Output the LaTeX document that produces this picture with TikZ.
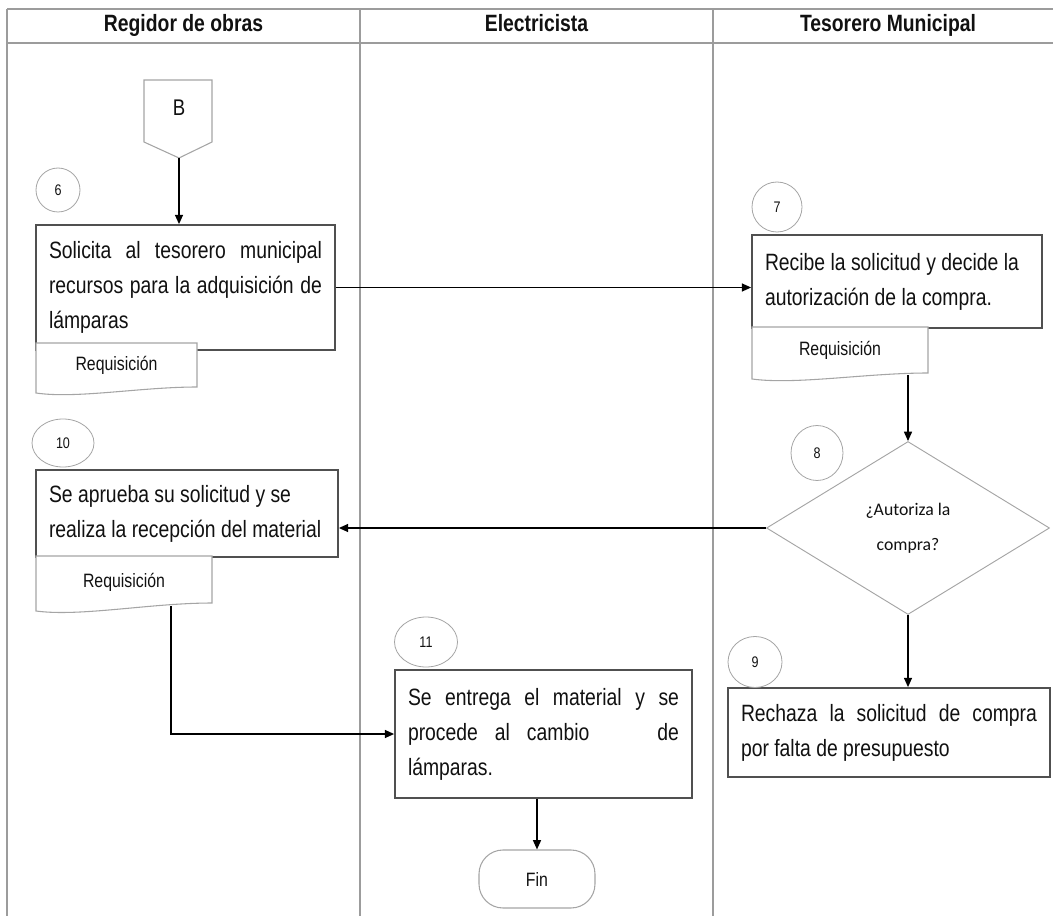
\documentclass[tikz,border=0pt]{standalone}
\usepackage{fontspec}
\setmainfont[FakeStretch=0.82]{Liberation Sans}
\newfontfamily\calfont{Carlito}
\usetikzlibrary{arrows.meta,shapes.geometric}

\definecolor{lanegray}{HTML}{9C9C9C}
\definecolor{boxgray}{HTML}{505050}
\definecolor{softgray}{HTML}{A5A5A5}
\definecolor{inkcol}{HTML}{111111}

% one justified line of a process box
\newcommand\jline[1]{\makebox[\linewidth][s]{#1}}
% document symbol: left, right, top, right bottom, left bottom
\newcommand\docpath[5]{%
  \draw[docline] (#1,#3) -- (#2,#3) -- (#2,#4)
    .. controls ({#2-0.35*(#2-#1)},#4) and ({#1+0.25*(#2-#1)},{#5+6}) .. (#1,#5) -- cycle;}

\tikzset{
  lane/.style={draw=lanegray, line width=1.5pt},
  lanehead/.style={anchor=base, font=\bfseries\fontsize{17.7}{20}\selectfont, text=inkcol},
  proc/.style={draw=boxgray, line width=1.3pt, fill=white, inner xsep=9.75pt,
    inner ysep=0pt, align=flush left, text=inkcol,
    font=\fontsize{17.7}{26.25}\selectfont},
  num/.style={ellipse, draw=softgray, line width=0.6pt, fill=white, inner sep=0pt,
    text=inkcol, font=\fontsize{11.5}{13}\selectfont},
  docline/.style={draw=softgray, line width=0.8pt, fill=white},
  doctext/.style={inner sep=0pt, text=inkcol, font=\fontsize{14.5}{16}\selectfont},
  flow/.style={draw=black, line width=1.1pt, -{Triangle[length=7pt,width=6pt]}}
}

\begin{document}
\begin{tikzpicture}[x=0.75pt, y=-0.75pt]
\useasboundingbox (0,0) rectangle (1053,916);

% swimlanes
\draw[lane] (7,9) -- (1053,9);
\draw[lane] (7,43) -- (1053,43);
\draw[lane] (7,9) -- (7,916);
\draw[lane] (360,9) -- (360,916);
\draw[lane] (713,9) -- (713,916);
\node[lanehead] (h1) at (183.5,32) {Regidor de obras};
\node[lanehead] (h2) at (536.5,32) {Electricista};
\node[lanehead] (h3) at (888,32) {Tesorero Municipal};

% off-page connector
\draw[docline] (144,80) -- (212,80) -- (212,142) -- (179,158) -- (144,142) -- cycle;
\node[text=inkcol, font=\fontsize{17}{20}\selectfont] (B) at (179,108) {B};
\coordinate (Bp) at (179,158);

% process boxes
\node[proc, text width=204.75pt, minimum height=93.75pt] (p6) at (185.5,287.5)
  {\jline{Solicita al tesorero municipal}\\\jline{recursos para la adquisición de}\\lámparas};
\node[proc, text width=198pt, minimum height=69.75pt] (p7) at (897,281.5)
  {Recibe la solicitud y decide la\\autorización de la compra.};
\node[proc, text width=207pt, minimum height=65.25pt] (p10) at (187,513.5)
  {Se aprueba su solicitud y se\\realiza la recepción del material};
\node[proc, text width=203.25pt, minimum height=96pt] (p11) at (543.5,734)
  {\jline{Se entrega el material y se}\\\makebox[\linewidth][l]{procede\hspace{12.75pt}al\hspace{12.75pt}cambio\hfill de}\\lámparas.};
\node[proc, text width=222pt, minimum height=66.75pt] (p9) at (889,732.5)
  {\jline{Rechaza la solicitud de compra}\\por falta de presupuesto};

% documents
\docpath{36}{197}{343}{387}{393}
\node[doctext] (doc6) at (116.5,365) {Requisición};
\docpath{752}{928}{327}{373}{379}
\node[doctext] (doc7) at (840,350) {Requisición};
\docpath{36}{212}{556}{603}{611}
\node[doctext] (doc10) at (124,582) {Requisición};
\coordinate (doc7b) at (908,375);
\coordinate (doc10b) at (171,606);

% decision
\node[diamond, draw=softgray, line width=0.7pt, fill=white, inner sep=0pt,
  minimum width=212.25pt, minimum height=129.75pt, align=center, text=inkcol,
  font=\calfont\fontsize{13.3}{26.25}\selectfont] (d8) at (908,528)
  {¿Autoriza la\\compra?};

% terminator
\node[draw=softgray, line width=0.8pt, rounded corners=18pt, minimum width=87pt,
  minimum height=43.5pt, inner sep=0pt, text=inkcol,
  font=\fontsize{14.5}{16}\selectfont] (fin) at (537,879) {Fin};

% step numbers
\node[num, minimum width=33pt, minimum height=33pt] (n6) at (58,190) {6};
\node[num, minimum width=37.5pt, minimum height=37.5pt] (n7) at (777,207) {7};
\node[num, minimum width=39pt, minimum height=41.25pt] (n8) at (817,453) {8};
\node[num, minimum width=46.5pt, minimum height=36pt] (n10) at (63,443) {10};
\node[num, minimum width=47.25pt, minimum height=37.5pt] (n11) at (426,642) {11};
\node[num, minimum width=40.5pt, minimum height=38.25pt] (n9) at (755,662) {9};

% flow
\draw[flow] (Bp) -- (Bp |- p6.north);
\draw[flow] (p6.east) -- (p6.east -| p7.west);
\draw[flow] (doc7b) -- (d8.north);
\draw[flow] (d8.west) -- (d8.west -| p10.east);
\draw[flow] (d8.south) -- (d8.south |- p9.north);
\draw[flow] (doc10b) |- (p11.west);
\draw[flow] (p11.south -| fin.north) -- (fin.north);
\end{tikzpicture}
\end{document}
